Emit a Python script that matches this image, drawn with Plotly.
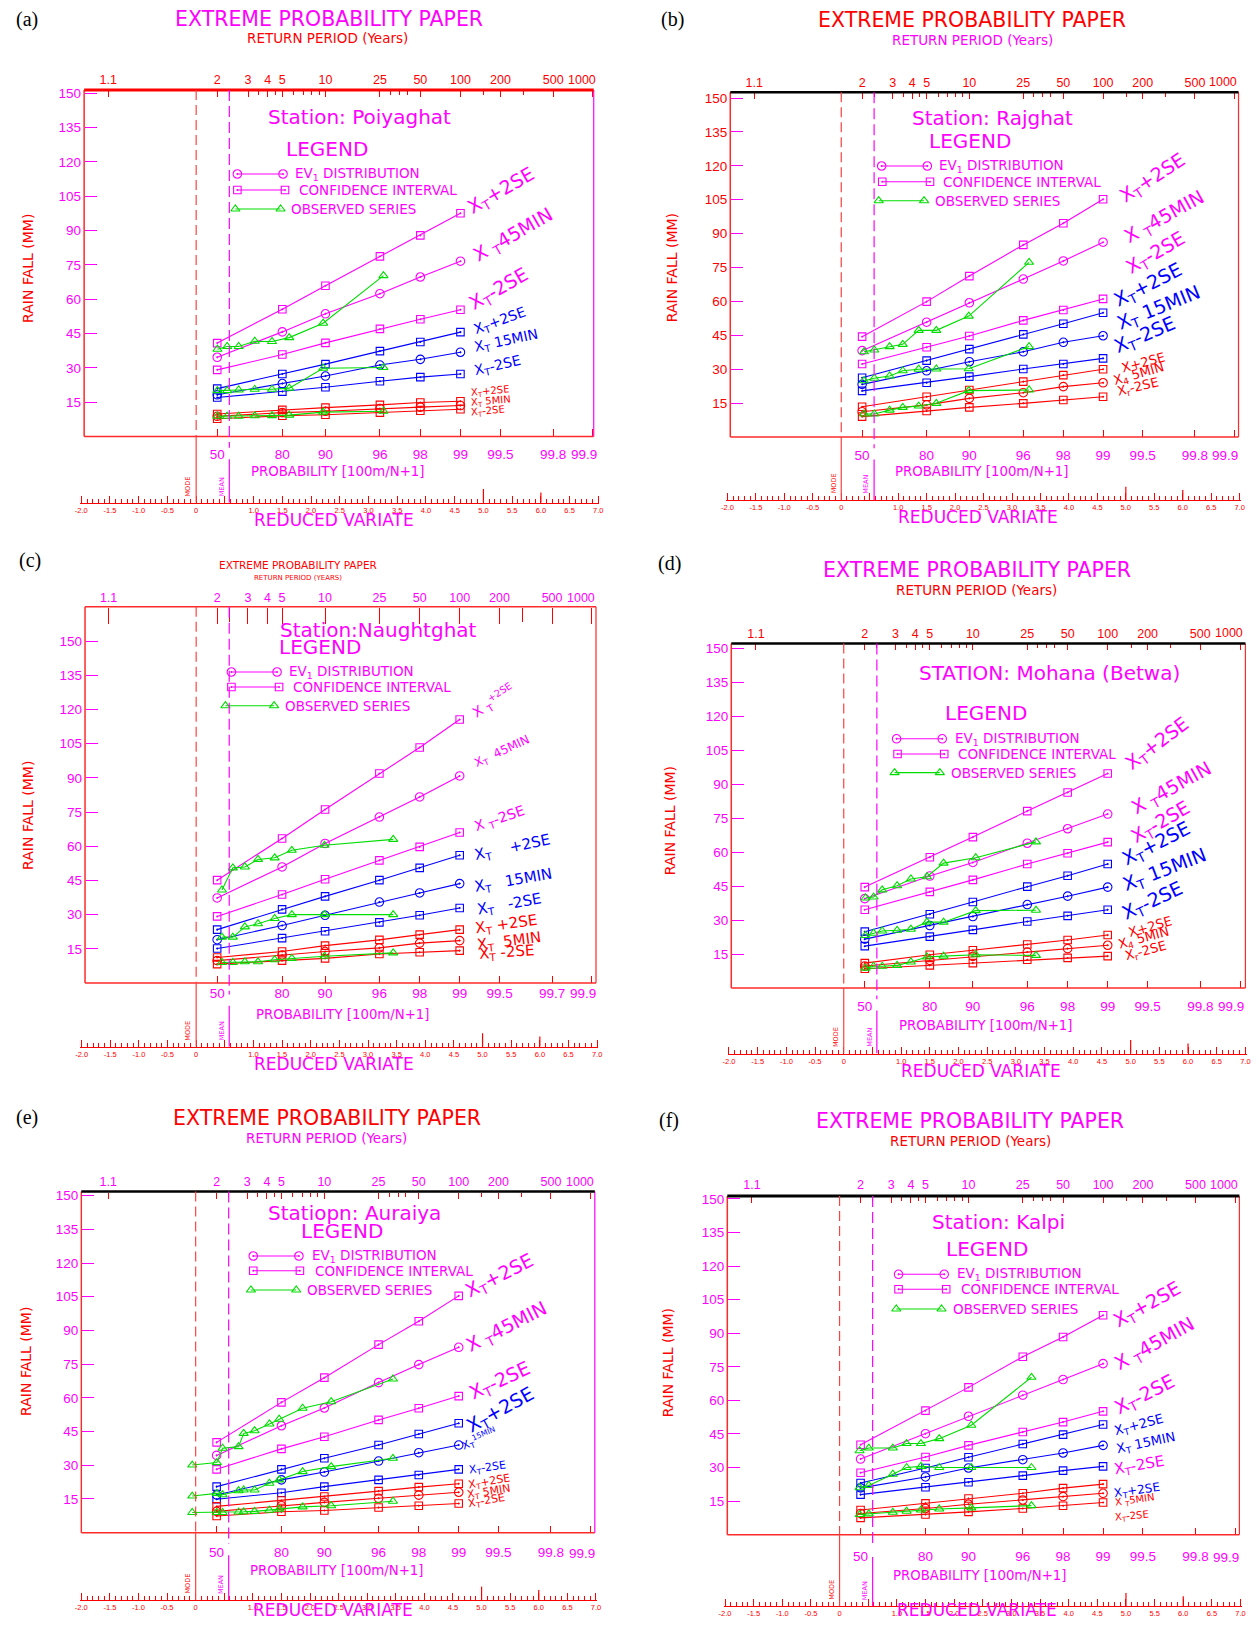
import numpy as np
import plotly.graph_objects as go

# ============================ DATA ============================
RETURN_PERIODS = [2, 5, 10, 25, 50, 100]
RAIN_TICKS = [15, 30, 45, 60, 75, 90, 105, 120, 135, 150]
RP_TICK_T = [1.01, 2, 3, 4, 5, 10, 25, 50, 100, 200, 500, 1000]
RP_TICK_TEXT = ["1.1", "2", "3", "4", "5", "10", "25", "50", "100", "200", "500", "1000"]
RP_MINOR_T = [2.33, 3.5, 4.5, 6, 7, 8, 9, 30, 35, 40, 150, 300]
PROB_VALUES = [50, 80, 90, 96, 98, 99, 99.5, 99.8, 99.9]
PROB_TEXT = ["50", "80", "90", "96", "98", "99", "99.5", "99.8", "99.9"]
PROB_TEXT_C = ["50", "80", "90", "96", "98", "99", "99.5", "99.7", "99.9"]
RV_MAJOR = [-2.0, -1.5, -1.0, -0.5, 0.0, 0.5, 1.0, 1.5, 2.0, 2.5, 3.0, 3.5, 4.0, 4.5, 5.0, 5.5, 6.0, 6.5, 7.0]
RV_TEXT = ["-2.0", "-1.5", "-1.0", "-0.5", "0", "", "1.0", "1.5", "2.0", "2.5", "3.0", "3.5", "4.0", "4.5",
           "5.0", "5.5", "6.0", "6.5", "7.0"]

# (a) Poiyaghat
A_45_UP = [40.8, 55.6, 65.9, 78.7, 87.9, 97.6]
A_45_EV = [34.6, 45.7, 53.6, 62.4, 69.7, 76.6]
A_45_LO = [29.1, 35.8, 40.9, 47.0, 51.2, 55.4]
A_15_UP = [20.9, 27.3, 31.6, 37.3, 41.3, 45.6]
A_15_EV = [18.2, 23.1, 26.4, 31.2, 33.7, 36.8]
A_15_LO = [17.0, 19.6, 21.5, 24.1, 25.9, 27.3]
A_5_UP = [9.8, 11.6, 12.6, 13.8, 14.8, 15.4]
A_5_EV = [8.8, 10.4, 11.0, 12.2, 12.8, 13.5]
A_5_LO = [7.7, 9.0, 9.5, 10.4, 11.2, 11.9]
A_OBS_X = [0.37, 0.54, 0.74, 1.02, 1.32, 1.62, 2.21, 3.26]
A_OBS_45 = [38.1, 39.3, 39.3, 41.6, 41.5, 43.2, 49.5, 70.3]
A_OBS_15 = [20.0, 20.0, 20.3, 20.6, 20.6, 21.1, 29.8, 30.1]
A_OBS_5 = [8.8, 8.8, 8.8, 9.0, 9.1, 9.3, 10.6, 11.0]

# (b) Rajghat
B_45_UP = [44.4, 59.9, 71.2, 85.0, 94.6, 105.2]
B_45_EV = [38.2, 50.8, 59.4, 69.9, 77.9, 86.2]
B_45_LO = [32.3, 39.7, 44.7, 51.6, 56.2, 61.1]
B_15_UP = [26.2, 33.8, 38.9, 45.4, 50.1, 55.0]
B_15_EV = [23.3, 29.3, 33.3, 37.7, 41.9, 44.8]
B_15_LO = [20.4, 24.0, 26.7, 30.1, 32.3, 34.8]
B_5_UP = [13.4, 17.8, 20.8, 24.5, 27.4, 30.0]
B_5_EV = [11.2, 14.2, 17.1, 19.6, 22.3, 24.0]
B_5_LO = [9.0, 11.5, 13.1, 14.9, 16.4, 17.8]
B_OBS_X = [0.40, 0.58, 0.85, 1.08, 1.36, 1.67, 2.24, 3.30]
B_OBS_45 = [37.7, 38.5, 40.0, 41.0, 47.2, 47.2, 53.5, 77.3]
B_OBS_15 = [24.9, 26.0, 27.0, 29.3, 30.0, 30.1, 30.2, 40.0]
B_OBS_5 = [10.2, 10.2, 11.9, 13.1, 13.7, 14.9, 20.5, 20.8]

# (c) Naughtghat
C_45_UP = [45.1, 63.4, 76.1, 91.9, 103.3, 115.6]
C_45_EV = [37.3, 50.9, 61.2, 72.8, 81.6, 90.8]
C_45_LO = [29.2, 38.8, 45.5, 53.8, 59.7, 66.0]
C_15_UP = [23.4, 32.3, 38.0, 45.1, 50.5, 56.0]
C_15_EV = [19.0, 25.2, 29.7, 35.5, 39.5, 43.6]
C_15_LO = [15.1, 19.7, 22.7, 26.6, 29.7, 32.9]
C_5_UP = [11.2, 13.8, 16.4, 18.9, 21.2, 23.4]
C_5_EV = [9.8, 12.3, 13.8, 15.4, 17.5, 18.6]
C_5_LO = [8.3, 9.8, 10.8, 12.7, 13.5, 14.2]
C_OBS_X = [0.45, 0.64, 0.85, 1.08, 1.37, 1.67, 2.24, 3.44]
C_OBS_45 = [40.8, 50.5, 50.9, 54.2, 54.9, 58.2, 60.4, 63.0]
C_OBS_15 = [20.1, 20.1, 24.6, 26.0, 28.3, 30.0, 30.0, 30.0]
C_OBS_5 = [9.0, 9.0, 9.3, 9.3, 10.2, 10.8, 11.7, 13.2]

# (d) Mohana (Betwa)
D_45_UP = [44.6, 57.8, 66.7, 78.2, 86.4, 94.8]
D_45_EV = [39.5, 49.5, 55.5, 64.0, 70.4, 76.9]
D_45_LO = [34.6, 42.5, 47.8, 54.8, 59.6, 64.5]
D_15_UP = [24.9, 32.6, 38.0, 44.8, 49.6, 54.8]
D_15_EV = [21.6, 27.6, 31.6, 36.9, 40.6, 44.6]
D_15_LO = [18.5, 22.7, 25.7, 29.4, 31.9, 34.6]
D_5_UP = [11.0, 14.7, 16.7, 19.2, 21.2, 23.4]
D_5_EV = [9.7, 12.2, 14.0, 15.9, 17.4, 18.9]
D_5_LO = [8.5, 10.0, 11.0, 12.5, 13.3, 14.1]
D_OBS_X = [0.38, 0.52, 0.67, 0.93, 1.17, 1.45, 1.74, 2.30, 3.35]
D_OBS_45 = [39.8, 40.2, 43.4, 45.2, 48.2, 49.2, 55.2, 57.6, 64.6]
D_OBS_15 = [23.2, 24.2, 25.2, 25.5, 26.0, 29.1, 29.1, 34.2, 34.4]
D_OBS_5 = [8.8, 9.6, 9.6, 10.0, 11.5, 13.7, 14.1, 14.7, 14.4]

# (e) Auraiya
E_45_UP = [40.2, 58.0, 69.0, 83.7, 94.1, 105.4]
E_45_EV = [34.4, 47.6, 55.5, 66.8, 74.8, 82.5]
E_45_LO = [28.2, 37.3, 42.7, 50.2, 55.4, 60.8]
E_15_UP = [20.5, 28.2, 33.1, 39.0, 43.9, 48.7]
E_15_EV = [16.8, 23.5, 27.0, 31.9, 35.6, 39.0]
E_15_LO = [14.9, 17.8, 20.5, 23.5, 25.7, 28.2]
E_5_UP = [11.7, 14.3, 16.1, 18.5, 20.3, 21.8]
E_5_EV = [9.5, 12.0, 13.5, 15.3, 16.7, 18.0]
E_5_LO = [7.4, 9.3, 9.9, 11.2, 12.0, 13.0]
E_OBS_X = [-0.06, 0.37, 0.47, 0.75, 0.84, 1.03, 1.29, 1.46, 1.87, 2.37, 3.45]
E_OBS_45 = [30.1, 31.2, 37.6, 38.3, 44.2, 45.4, 48.4, 50.5, 55.4, 58.3, 68.4]
E_OBS_15 = [16.3, 17.5, 16.9, 18.7, 19.0, 19.0, 22.0, 23.5, 27.2, 29.4, 33.1]
E_OBS_5 = [9.0, 9.0, 9.0, 9.2, 9.3, 9.5, 10.0, 10.5, 11.5, 12.0, 14.0]

# (f) Kalpi
F_45_UP = [40.2, 55.4, 65.8, 79.5, 88.3, 98.0]
F_45_EV = [33.8, 45.1, 52.9, 62.3, 69.3, 76.4]
F_45_LO = [27.7, 34.7, 39.9, 45.9, 50.3, 55.1]
F_15_UP = [23.1, 29.8, 34.6, 40.5, 44.7, 49.2]
F_15_EV = [20.9, 25.8, 29.8, 33.5, 36.5, 39.9]
F_15_LO = [17.9, 21.2, 23.4, 26.4, 28.6, 30.5]
F_5_UP = [11.0, 14.0, 16.2, 18.5, 20.8, 22.6]
F_5_EV = [9.5, 11.7, 13.6, 15.5, 17.0, 18.5]
F_5_LO = [7.5, 9.0, 10.2, 11.7, 12.9, 14.4]
F_OBS_X = [0.35, 0.51, 0.93, 1.17, 1.42, 1.74, 2.30, 3.35]
F_OBS_45 = [37.5, 38.7, 38.7, 40.7, 40.7, 42.9, 48.9, 70.3]
F_OBS_15 = [21.0, 22.0, 27.0, 30.0, 30.5, 30.0, 30.0, 30.0]
F_OBS_5 = [9.0, 9.3, 10.0, 10.5, 11.0, 11.5, 12.0, 13.0]

# ============================ STYLE ============================
MAG = "#ff00ff"
BLUE = "#0000ff"
RED = "#ff0000"
GREEN = "#00dd00"
FRED = "#ff2a2a"
BLACK = "#000000"
FONT = "DejaVu Sans"
NUM = "Liberation Sans"
SERIF = "Liberation Serif"

W, H, OFF = 1243, 1613, 8


def pxx(X):
    return min(max((X - OFF) / W, 0.0), 1.0)


def pxy(Y):
    return min(max(1 - (Y - OFF) / H, 0.0), 1.0)


def rv_T(T):
    return -np.log(-np.log(1 - 1 / np.asarray(T, float)))


def rv_p(p):
    return -np.log(-np.log(np.asarray(p, float) / 100))


SER_COLORS = [MAG] * 3 + [BLUE] * 3 + [RED] * 3
SER_SYMBOLS = ["square-open-dot", "circle-open-dot", "square-open-dot"] * 3

XT = "X<sub>T</sub>"
PANELS = [
    dict(tag="(a)", station="Station: Poiyaghat",
         series=[A_45_UP, A_45_EV, A_45_LO, A_15_UP, A_15_EV, A_15_LO, A_5_UP, A_5_EV, A_5_LO],
         obs_x=A_OBS_X, obs=[A_OBS_45, A_OBS_15, A_OBS_5],
         g=dict(x0=192.5, ppu=57.87, y0=436.4, ppmm=2.287, top=151.5, bot=-29, fl=-1.95, fr=6.92),
         title=(326, 19, MAG, 20.5), rp=(325, 38, RED, 13.5, "RETURN PERIOD (Years)"),
         tagpos=(9, 20), st=(357, 117), lg=(324, 149),
         rows=[(234, 280, 174, 290.5), (234, 282, 190, 294.5), (232, 277.5, 209, 286.5)],
         prob_title=(335, 472), rain=(23, 268),
         ycol=MAG, topcol=RED, top_line=(RED, 3), right_col=MAG, top_len=6, prob_off=8, top_off=3,
         prob_text=PROB_TEXT, minor=RP_MINOR_T,
         labels=[(XT + "+2SE", MAG, 19, -30, 6, 0), ("X <sub>T</sub>45MIN", MAG, 19, -30, 12, 0),
                 (XT + "-2SE", MAG, 19, -30, 8, -1), (XT + "+2SE", BLUE, 14, -20, 12, 1),
                 (XT + " 15MIN", BLUE, 14, -12, 12, -2), (XT + "-2SE", BLUE, 14, -13, 12, 0),
                 (XT + "+2SE", RED, 10, -5, 8, -6), (XT + " 5MIN", RED, 10, -5, 8, 0),
                 (XT + "-2SE", RED, 10, -5, 8, 6)]),
    dict(tag="(b)", station="Station: Rajghat",
         series=[B_45_UP, B_45_EV, B_45_LO, B_15_UP, B_15_EV, B_15_LO, B_5_UP, B_5_EV, B_5_LO],
         obs_x=B_OBS_X, obs=[B_OBS_45, B_OBS_15, B_OBS_5],
         g=dict(x0=842.3, ppu=57.33, y0=437.0, ppmm=2.26, top=152.5, bot=-28, fl=-1.95, fr=6.98),
         title=(974, 20, RED, 20.5), rp=(974, 40, MAG, 13.5, "RETURN PERIOD (Years)"),
         tagpos=(659, 20), st=(995, 118), lg=(972, 141),
         rows=[(883, 929, 166, 938.4), (883.6, 931.7, 181.7, 942.8), (880, 925.7, 200.7, 934.4)],
         prob_title=(984, 472), rain=(672, 268),
         ycol=RED, topcol=RED, top_line=(BLACK, 2.5), right_col=FRED, top_len=6, prob_off=8, top_off=3,
         prob_text=PROB_TEXT, minor=RP_MINOR_T,
         labels=[(XT + "+2SE", MAG, 19, -33, 16, 2), ("X <sub>T</sub>45MIN", MAG, 19, -29, 20, 0),
                 (XT + "-2SE", MAG, 19, -30, 22, -26), (XT + "+2SE", BLUE, 19, -27, 10, -7),
                 (XT + " 15MIN", BLUE, 19, -22, 12, -8), (XT + "-2SE", BLUE, 19, -23, 10, -7),
                 ("X+2SE", RED, 13, -15, 16, 1), ("X<sub>4</sub> 5MIN", RED, 13, -16, 8, 2),
                 ("X<sub>r</sub>-2SE", RED, 13, -13, 12, -2)]),
    dict(tag="(c)", station="Station:Naughtghat",
         series=[C_45_UP, C_45_EV, C_45_LO, C_15_UP, C_15_EV, C_15_LO, C_5_UP, C_5_EV, C_5_LO],
         obs_x=C_OBS_X, obs=[C_OBS_45, C_OBS_15, C_OBS_5],
         g=dict(x0=192.5, ppu=57.7, y0=983.0, ppmm=2.28, top=165.0, bot=-28, fl=-1.94, fr=6.98),
         title=(295, 565, RED, 10.5), rp=(295, 578, RED, 7, "RETURN PERIOD (YEARS)"),
         tagpos=(12, 561), st=(376, 630), lg=(317, 647),
         rows=[(228, 274, 672, 284), (228, 276, 687, 287.6), (222, 271, 705.7, 280)],
         prob_title=(340, 1014), rain=(23, 815),
         ycol=MAG, topcol=MAG, top_line=(FRED, 1.5), right_col=FRED, top_len=16, prob_off=0, top_off=2,
         prob_text=PROB_TEXT_C, minor=[2.33, 300],
         labels=[("X <sub>T</sub><sup>+2SE</sup>", MAG, 14, -33, 11, -2), (XT + "  45MIN", MAG, 12, -25, 13, -8),
                 ("X <sub>T</sub>-2SE", MAG, 14, -19, 13, -2), (XT + "    +2SE", BLUE, 15, -12, 13, 3),
                 (XT + "   15MIN", BLUE, 15, -10, 13, 6), (XT + "   -2SE", BLUE, 15, -10, 15, 5),
                 (XT + " +2SE", RED, 15, -8, 13, 2), (XT + "  5MIN", RED, 15, -7, 15, 7),
                 (XT + " -2SE", RED, 15, -4, 17, 6)]),
    dict(tag="(d)", station="STATION: Mohana (Betwa)",
         series=[D_45_UP, D_45_EV, D_45_LO, D_15_UP, D_15_EV, D_15_LO, D_5_UP, D_5_EV, D_5_LO],
         obs_x=D_OBS_X, obs=[D_OBS_45, D_OBS_15, D_OBS_5],
         g=dict(x0=844.8, ppu=57.8, y0=988.0, ppmm=2.262, top=152.3, bot=-29, fl=-1.96, fr=7.0),
         title=(979, 570, MAG, 20.5), rp=(979, 590, RED, 13.5, "RETURN PERIOD (Years)"),
         tagpos=(656, 564), st=(1052, 673), lg=(988, 713),
         rows=[(898, 944, 738.8, 954.7), (899, 946, 754, 958), (896, 941.6, 772.6, 950.8)],
         prob_title=(988, 1025), rain=(670, 821),
         ycol=MAG, topcol=RED, top_line=(BLACK, 2.5), right_col=FRED, top_len=6, prob_off=8, top_off=3,
         prob_text=PROB_TEXT, minor=RP_MINOR_T,
         labels=[(XT + "+2SE", MAG, 19, -37, 17, -4), ("X <sub>T</sub>45MIN", MAG, 19, -29, 23, -1),
                 (XT + "-2SE", MAG, 19, -30, 23, 0), (XT + "+2SE", BLUE, 19, -27, 13, 0),
                 (XT + " 15MIN", BLUE, 19, -21, 13, 2), (XT + "-2SE", BLUE, 19, -25, 13, 9),
                 ("X+2SE", RED, 13, -16, 19, 0), ("X<sub>4</sub> 5MIN", RED, 13, -15, 9, 3),
                 ("X<sub>r</sub>-2SE", RED, 13, -15, 15, 4)]),
    dict(tag="(e)", station="Statiopn: Auraiya",
         series=[E_45_UP, E_45_EV, E_45_LO, E_15_UP, E_15_EV, E_15_LO, E_5_UP, E_5_EV, E_5_LO],
         obs_x=E_OBS_X, obs=[E_OBS_45, E_OBS_15, E_OBS_5],
         g=dict(x0=192.0, ppu=57.6, y0=1532.7, ppmm=2.247, top=151.8, bot=-30, fl=-2.0, fr=6.98),
         title=(324, 1118, RED, 20.5), rp=(324, 1138, MAG, 13.5, "RETURN PERIOD (Years)"),
         tagpos=(9, 1117), st=(352, 1213), lg=(339, 1231),
         rows=[(250, 296, 1256, 306.7), (250, 297, 1270.7, 310), (247.7, 293.3, 1290, 301.7)],
         prob_title=(334, 1570), rain=(21, 1361),
         ycol=MAG, topcol=MAG, top_line=(BLACK, 2.5), right_col=MAG, top_len=6, prob_off=10, top_off=3,
         prob_text=PROB_TEXT, minor=RP_MINOR_T,
         labels=[(XT + "+2SE", MAG, 19, -27, 5, 0), ("X <sub>T</sub>45MIN", MAG, 19, -27, 6, 3),
                 (XT + "-2SE", MAG, 19, -25, 9, 2), (XT + "+2SE", BLUE, 19, -29, 7, 8),
                 (XT + "<sup>15MIN</sup>", BLUE, 11, -23, 1, 5), (XT + "-2SE", BLUE, 11, -8, 8, 4),
                 (XT + "+2SE", RED, 11, -10, 7, 4), (XT + " 5MIN", RED, 11, -9, 6, 6),
                 (XT + "-2SE", RED, 11, -10, 7, 3)]),
    dict(tag="(f)", station="Station: Kalpi",
         series=[F_45_UP, F_45_EV, F_45_LO, F_15_UP, F_15_EV, F_15_LO, F_5_UP, F_5_EV, F_5_LO],
         obs_x=F_OBS_X, obs=[F_OBS_45, F_OBS_15, F_OBS_5],
         g=dict(x0=840.6, ppu=57.7, y0=1534.7, ppmm=2.239, top=151.3, bot=-32, fl=-1.96, fr=6.98),
         title=(972, 1121, MAG, 20.5), rp=(972, 1141, RED, 13.5, "RETURN PERIOD (Years)"),
         tagpos=(657, 1120), st=(1001, 1222), lg=(989, 1249),
         rows=[(900, 946, 1274.3, 956.7), (900, 948, 1289.3, 960.7), (897.7, 943.3, 1309, 952.7)],
         prob_title=(982, 1575), rain=(668, 1363),
         ycol=MAG, topcol=MAG, top_line=(BLACK, 3), right_col=FRED, top_len=6, prob_off=12, top_off=4,
         prob_text=PROB_TEXT, minor=RP_MINOR_T,
         labels=[(XT + "+2SE", MAG, 19, -29, 9, 11), ("X <sub>T</sub>45MIN", MAG, 19, -29, 10, 5),
                 (XT + "-2SE", MAG, 19, -27, 10, 2), (XT + "+2SE", BLUE, 13, -15, 9, 10),
                 (XT + " 15MIN", BLUE, 13, -12, 11, 7), (XT + "-2SE", MAG, 15, -10, 9, 6),
                 (XT + "+2SE", BLUE, 12, -8, 9, 13), ("X <sub>T</sub>5MIN", RED, 10, -8, 10, 13),
                 (XT + "-2SE", RED, 10, -5, 10, 18)]),
]

# ============================ BUILD ============================
fig = go.Figure()
layout = dict(width=W, height=H, margin=dict(l=0, r=0, t=0, b=0, pad=0), autosize=False,
              paper_bgcolor="white", plot_bgcolor="rgba(0,0,0,0)", showlegend=False)
shapes, annotations = [], []

rv_pts = rv_T(RETURN_PERIODS)
rv_minor = [round(v, 1) for v in np.arange(-2.0, 7.001, 0.1) if abs(v * 2 - round(v * 2)) > 1e-6]
EULER = 0.5772


def ann_px(text, X, Y, size, color, family=FONT, xanchor="center", yanchor="middle", angle=0):
    annotations.append(dict(text=text, x=pxx(X), y=pxy(Y), xref="paper", yref="paper", showarrow=False,
                            xanchor=xanchor, yanchor=yanchor, textangle=angle,
                            font=dict(family=family, size=size, color=color)))


for i, P in enumerate(PANELS):
    n = i + 1
    G = P["g"]
    x0, ppu, y0, ppmm = G["x0"], G["ppu"], G["y0"], G["ppmm"]
    xid = "x" if n == 1 else f"x{n}"
    yid = "y" if n == 1 else f"y{n}"
    xkey = "xaxis" if n == 1 else f"xaxis{n}"
    ykey = "yaxis" if n == 1 else f"yaxis{n}"
    xr = [-2.02, 7.02]
    dom_x = [pxx(x0 + xr[0] * ppu), pxx(x0 + xr[1] * ppu)]
    yr = [G["bot"], G["top"] + 2]
    dom_y = [pxy(y0 - yr[0] * ppmm), pxy(y0 - yr[1] * ppmm)]

    def to_rv(X):
        return (X - x0) / ppu

    def to_mm(Y):
        return (y0 - Y) / ppmm

    # reduced-variate axis (bottom)
    layout[xkey] = dict(domain=dom_x, range=xr, anchor=yid, showline=True, linecolor=RED, linewidth=1,
                        tickmode="array", tickvals=RV_MAJOR, ticktext=RV_TEXT, ticks="inside", ticklen=7,
                        tickcolor=RED, tickwidth=1, tickfont=dict(family=NUM, size=7.5, color=RED),
                        minor=dict(tickmode="array", tickvals=rv_minor, ticks="inside", ticklen=4,
                                   tickcolor=RED, tickwidth=1, showgrid=False),
                        showgrid=False, zeroline=False, fixedrange=True)
    # rainfall axis
    layout[ykey] = dict(domain=dom_y, range=yr, anchor="free", position=pxx(x0 + G["fl"] * ppu), side="left",
                        tickmode="array", tickvals=RAIN_TICKS, ticktext=[str(v) for v in RAIN_TICKS],
                        ticks="inside", ticklen=12, tickcolor=MAG, tickwidth=1.2, ticklabelstandoff=3,
                        tickfont=dict(family=NUM, size=13.5, color=P["ycol"]),
                        showline=False, showgrid=False, zeroline=False, fixedrange=True)
    # return period axis (top of frame); the last label is placed separately, nudged inward as on the paper
    nt = n + 6
    layout[f"xaxis{nt}"] = dict(domain=dom_x, range=xr, overlaying=xid, side="top", anchor="free",
                                position=pxy(y0 - G["top"] * ppmm),
                                tickmode="array", tickvals=list(rv_T(RP_TICK_T)),
                                ticktext=RP_TICK_TEXT[:-1] + [""],
                                ticks="inside", ticklen=P["top_len"], tickcolor=RED, tickwidth=1,
                                tickfont=dict(family=NUM, size=12.5, color=P["topcol"]),
                                ticklabelstandoff=P["top_off"],
                                minor=dict(tickmode="array", tickvals=list(rv_T(P["minor"])), ticks="inside",
                                           ticklen=max(4, P["top_len"] - 2), tickcolor=RED, showgrid=False),
                                showline=False, showgrid=False, zeroline=False, fixedrange=True)
    annotations.append(dict(text=RP_TICK_TEXT[-1], x=float(rv_T(RP_TICK_T[-1])), y=G["top"], xref=xid, yref=yid,
                            showarrow=False, xanchor="right", yanchor="bottom", xshift=5,
                            yshift=P["top_off"] - 2, font=dict(family=NUM, size=12.5, color=P["topcol"])))
    # probability axis (bottom of frame)
    npb = n + 12
    layout[f"xaxis{npb}"] = dict(domain=dom_x, range=xr, overlaying=xid, side="bottom", anchor="free",
                                 position=pxy(y0),
                                 tickmode="array", tickvals=list(rv_p(PROB_VALUES)),
                                 ticktext=P["prob_text"][:-1] + [""],
                                 ticks="inside", ticklen=7, tickcolor=RED, tickwidth=1,
                                 tickfont=dict(family=NUM, size=13.5, color=MAG),
                                 ticklabelstandoff=P["prob_off"],
                                 showline=False, showgrid=False, zeroline=False, fixedrange=True)
    annotations.append(dict(text=P["prob_text"][-1], x=float(rv_p(PROB_VALUES[-1])), y=0, xref=xid, yref=yid,
                            showarrow=False, xanchor="right", yanchor="top", xshift=6,
                            yshift=-(P["prob_off"] + 1), font=dict(family=NUM, size=13.5, color=MAG)))
    # empty traces so the two extra axes belong to a subplot and get drawn
    for extra in (f"x{nt}", f"x{npb}"):
        fig.add_trace(go.Scatter(x=[None], y=[None], xaxis=extra, yaxis=yid, mode="markers",
                                 hoverinfo="skip", showlegend=False))

    # frame
    fl, fr, top = G["fl"], G["fr"], G["top"]
    shapes += [
        dict(type="line", xref=xid, yref=yid, x0=fl, x1=fl, y0=0, y1=top, line=dict(color=FRED, width=1.5)),
        dict(type="line", xref=xid, yref=yid, x0=fl, x1=fr, y0=0, y1=0, line=dict(color=FRED, width=1.5)),
        dict(type="line", xref=xid, yref=yid, x0=fr, x1=fr, y0=0, y1=top, line=dict(color=P["right_col"], width=1.2)),
        dict(type="line", xref=xid, yref=yid, x0=fl, x1=fr, y0=top, y1=top,
             line=dict(color=P["top_line"][0], width=P["top_line"][1])),
        # mode line
        dict(type="line", xref=xid, yref=yid, x0=0, x1=0, y0=top, y1=0, line=dict(color="#ff4040", width=1.2, dash="10px,5px")),
        dict(type="line", xref=xid, yref=yid, x0=0, x1=0, y0=0, y1=G["bot"], line=dict(color="#ff4040", width=1.2)),
        # mean line
        dict(type="line", xref=xid, yref=yid, x0=EULER, x1=EULER, y0=top, y1=-5, line=dict(color=MAG, width=1.2, dash="11px,5px")),
        dict(type="line", xref=xid, yref=yid, x0=EULER, x1=EULER, y0=-10, y1=G["bot"], line=dict(color=MAG, width=1.2)),
        # taller reduced-variate ticks
        dict(type="line", xref=xid, yref=yid, x0=5, x1=5, y0=G["bot"], y1=G["bot"] + 6, line=dict(color=RED, width=1.2)),
        dict(type="line", xref=xid, yref=yid, x0=6, x1=6, y0=G["bot"], y1=G["bot"] + 4.5, line=dict(color=RED, width=1.2)),
    ]
    annotations.append(dict(text="MODE", x=-0.03, y=G["bot"] + 2, xref=xid, yref=yid, showarrow=False,
                            xanchor="right", yanchor="bottom", textangle=-90,
                            font=dict(family=FONT, size=6.5, color=RED)))
    annotations.append(dict(text="MEAN", x=EULER - 0.03, y=G["bot"] + 2, xref=xid, yref=yid, showarrow=False,
                            xanchor="right", yanchor="bottom", textangle=-90,
                            font=dict(family=FONT, size=6.5, color=MAG)))

    # fitted EV lines and confidence limits
    for s, vals in enumerate(P["series"]):
        col = SER_COLORS[s]
        sym = SER_SYMBOLS[s]
        fig.add_trace(go.Scatter(x=rv_pts, y=vals, xaxis=xid, yaxis=yid, mode="lines+markers",
                                 line=dict(color=col, width=1.1),
                                 marker=dict(symbol=sym, size=8.5 if "circle" in sym else 7.5, color=col,
                                             line=dict(color=col, width=1.1)),
                                 hoverinfo="skip"))
    # observed series
    for vals in P["obs"]:
        fig.add_trace(go.Scatter(x=P["obs_x"], y=vals, xaxis=xid, yaxis=yid, mode="lines+markers",
                                 line=dict(color=GREEN, width=1.1),
                                 marker=dict(symbol="triangle-up-open", size=8, color=GREEN,
                                             line=dict(color=GREEN, width=1.1)),
                                 hoverinfo="skip"))

    # curve labels
    for s, (txt, col, size, ang, dx, dy) in enumerate(P["labels"]):
        h = 1.25 * size
        a = np.radians(abs(ang))
        annotations.append(dict(text=txt, x=rv_pts[-1], y=P["series"][s][-1], xref=xid, yref=yid,
                                showarrow=False, xanchor="left", yanchor="bottom", textangle=ang,
                                xshift=dx - h / 2 * np.sin(a), yshift=-(dy + h / 2 * np.cos(a)),
                                font=dict(family=FONT, size=size, color=col)))

    # legend samples
    leg_styles = [(MAG, "circle-open-dot", 8.5, "EV<sub>1</sub> DISTRIBUTION"),
                  (MAG, "square-open-dot", 7.5, "CONFIDENCE INTERVAL"),
                  (GREEN, "triangle-up-open", 8, "OBSERVED SERIES")]
    for (xa, xb, yy, xt), (col, sym, msz, txt) in zip(P["rows"], leg_styles):
        fig.add_trace(go.Scatter(x=[to_rv(xa), to_rv(xb)], y=[to_mm(yy), to_mm(yy)], xaxis=xid, yaxis=yid,
                                 mode="lines+markers", line=dict(color=col, width=1.1),
                                 marker=dict(symbol=sym, size=msz, color=col, line=dict(color=col, width=1.1)),
                                 hoverinfo="skip"))
        ann_px(txt, xt, yy, 13.5, MAG, xanchor="left")

    # texts
    ann_px(P["tag"], P["tagpos"][0], P["tagpos"][1], 20, BLACK, family=SERIF, xanchor="left")
    tx, ty, tc, ts = P["title"]
    ann_px("EXTREME PROBABILITY PAPER", tx, ty, ts, tc)
    rx, ry, rc, rs, rtxt = P["rp"]
    ann_px(rtxt, rx, ry, rs, rc)
    ann_px(P["station"], P["st"][0], P["st"][1], 20, MAG)
    ann_px("LEGEND", P["lg"][0], P["lg"][1], 20, MAG)
    ann_px("PROBABILITY [100m/N+1]", P["prob_title"][0], P["prob_title"][1], 13.3, MAG)
    ann_px("REDUCED VARIATE", x0 + 2.4 * ppu, min(y0 - G["bot"] * ppmm + 17, 1610), 17, MAG)
    ann_px("RAIN FALL (MM)", P["rain"][0], P["rain"][1], 14, RED, angle=-90)

layout["shapes"] = shapes
layout["annotations"] = annotations
fig.update_layout(**layout)
fig.write_html("out.html")
